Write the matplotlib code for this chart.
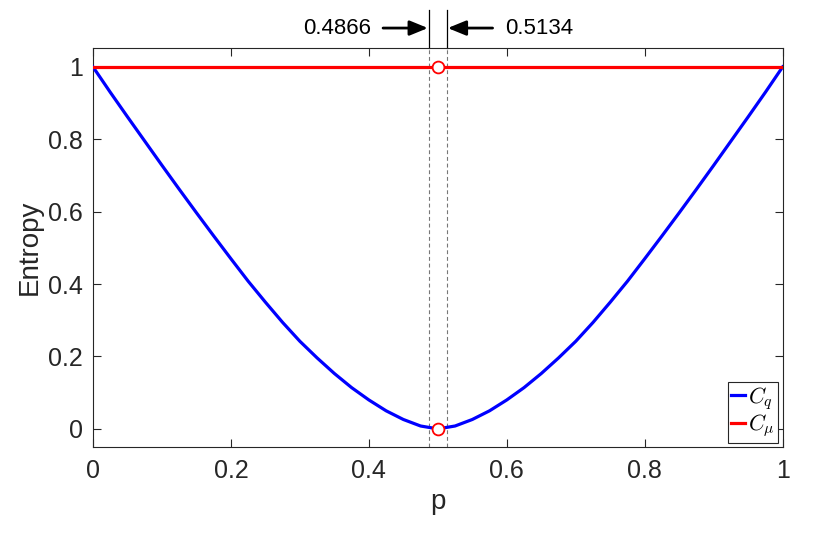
import matplotlib
matplotlib.use("Agg")
import matplotlib.pyplot as plt

plt.rcParams['font.family'] = ['Liberation Sans', 'DejaVu Sans']
plt.rcParams['mathtext.fontset'] = 'cm'

# Data
p_vals = [0.000, 0.025, 0.050, 0.075, 0.100, 0.125, 0.150, 0.175, 0.200, 0.225,
          0.250, 0.275, 0.300, 0.325, 0.350, 0.375, 0.400, 0.425, 0.450, 0.475,
          0.500, 0.525, 0.550, 0.575, 0.600, 0.625, 0.650, 0.675, 0.700, 0.725,
          0.750, 0.775, 0.800, 0.825, 0.850, 0.875, 0.900, 0.925, 0.950, 0.975,
          1.000]
Cq_vals = [1.000, 0.930, 0.862, 0.795, 0.728, 0.662, 0.597, 0.533, 0.470, 0.408,
           0.350, 0.294, 0.242, 0.196, 0.153, 0.114, 0.080, 0.050, 0.026, 0.008,
           0.000, 0.008, 0.026, 0.050, 0.080, 0.114, 0.153, 0.196, 0.242, 0.294,
           0.350, 0.408, 0.470, 0.533, 0.597, 0.662, 0.728, 0.795, 0.862, 0.930,
           1.000]
p_mu = [0.0, 1.0]
Cmu_vals = [1.0, 1.0]
marker_p = [0.5, 0.5]
marker_y = [1.0, 0.0]
bounds = [0.4866, 0.5134]
bound_labels = ['0.4866', '0.5134']
xticks = [0, 0.2, 0.4, 0.6, 0.8, 1]
xtick_labels = ['0', '0.2', '0.4', '0.6', '0.8', '1']
yticks = [0, 0.2, 0.4, 0.6, 0.8, 1]
ytick_labels = ['0', '0.2', '0.4', '0.6', '0.8', '1']

fig = plt.figure(figsize=(8.3, 5.43), dpi=100)
ax = fig.add_axes([0.112, 0.1768, 0.831, 0.7348])

tc = '#262626'
ax.plot(p_vals, Cq_vals, color='#0000ff', lw=2.3, label=r'$C_q$', zorder=3)
ax.plot(p_mu, Cmu_vals, color='#ff0000', lw=2.3, label=r'$C_\mu$', zorder=3)
ax.plot(marker_p, marker_y, linestyle='none', marker='o', ms=8.5, mfc='white',
        mec='#ff0000', mew=1.3, zorder=4)

for b in bounds:
    ax.axvline(b, color='#777777', lw=0.8, ls=(0, (3.5, 2.5)), zorder=2)
    ax.plot([b, b], [1.0, 1.0 + 0.095], color='black', lw=0.9,
            transform=ax.get_xaxis_transform(), clip_on=False)

# arrows and labels above axes
ytxt = 1.0 + 0.05
arrow_style = '-|>,head_length=1.1,head_width=0.45'
ax.annotate('', xy=(bounds[0], ytxt), xytext=(bounds[0] - 0.066, ytxt),
            xycoords=ax.get_xaxis_transform(), textcoords=ax.get_xaxis_transform(),
            arrowprops=dict(arrowstyle=arrow_style, color='black', lw=2.0,
                            shrinkA=0, shrinkB=0.5))
ax.annotate('', xy=(bounds[1], ytxt), xytext=(bounds[1] + 0.066, ytxt),
            xycoords=ax.get_xaxis_transform(), textcoords=ax.get_xaxis_transform(),
            arrowprops=dict(arrowstyle=arrow_style, color='black', lw=2.0,
                            shrinkA=0, shrinkB=0.5))
ax.text(bounds[0] - 0.084, ytxt, bound_labels[0], transform=ax.get_xaxis_transform(),
        ha='right', va='center', fontsize=16, color='black')
ax.text(bounds[1] + 0.084, ytxt, bound_labels[1], transform=ax.get_xaxis_transform(),
        ha='left', va='center', fontsize=16, color='black')

ax.set_xlim(0, 1)
ax.set_ylim(-0.05, 1.052)
ax.set_xticks(xticks)
ax.set_xticklabels(xtick_labels)
ax.set_yticks(yticks)
ax.set_yticklabels(ytick_labels)
ax.tick_params(direction='in', length=6, width=0.8, colors=tc, labelsize=18,
               top=True, right=True)
ax.tick_params(axis='x', pad=9)
ax.tick_params(axis='y', pad=7)
for s in ax.spines.values():
    s.set_color(tc)
    s.set_linewidth(0.8)

ax.set_xlabel('p', fontsize=20, color=tc, labelpad=4)
ax.set_ylabel('Entropy', fontsize=20, color=tc, labelpad=4)

leg = ax.legend(loc='lower right', fontsize=16, handlelength=0.6, handletextpad=0.15,
                borderpad=0.15, labelspacing=0.05, borderaxespad=0.2,
                fancybox=False, framealpha=1)
leg.get_frame().set_edgecolor('#262626')
leg.get_frame().set_linewidth(0.8)

fig.savefig('out.png', dpi=100)
